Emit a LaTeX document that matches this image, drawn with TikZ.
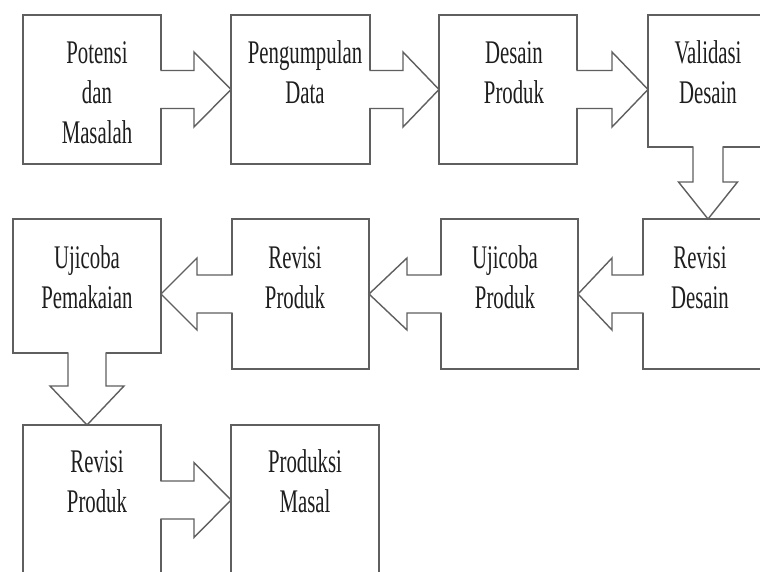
\documentclass[tikz,border=0pt]{standalone}
\usepackage{fontspec}
\setmainfont{Liberation Serif}[FakeStretch=0.63]
\usetikzlibrary{calc}

\definecolor{edgegray}{RGB}{95,95,95}
\definecolor{inkgray}{RGB}{30,30,30}

% first-line strut so every label hangs from the same top
\newcommand\fl{\rule{0pt}{30pt}}

% horizontal block arrow: #1 start on border, #2 tip, #3 signed shaft length,
% #4 shaft half width, #5 head half width
\newcommand\hblock[5]{%
  \draw[eraser] ($(#1)+(0,#4)$) -- ($(#1)+(0,-#4)$);
  \fill[white] ($(#1)+(0,#4)$) -- ($(#1)+(#3,#4)$) -- ($(#1)+(#3,#5)$) -- (#2)
    -- ($(#1)+(#3,-#5)$) -- ($(#1)+(#3,-#4)$) -- ($(#1)+(0,-#4)$) -- cycle;
  \draw[flowline] ($(#1)+(0,#4)$) -- ($(#1)+(#3,#4)$) -- ($(#1)+(#3,#5)$) -- (#2)
    -- ($(#1)+(#3,-#5)$) -- ($(#1)+(#3,-#4)$) -- ($(#1)+(0,-#4)$);
}
% vertical block arrow, same arguments with the axes swapped
\newcommand\vblock[5]{%
  \draw[eraser] ($(#1)+(#4,0)$) -- ($(#1)+(-#4,0)$);
  \fill[white] ($(#1)+(#4,0)$) -- ($(#1)+(#4,#3)$) -- ($(#1)+(#5,#3)$) -- (#2)
    -- ($(#1)+(-#5,#3)$) -- ($(#1)+(-#4,#3)$) -- ($(#1)+(-#4,0)$) -- cycle;
  \draw[flowline] ($(#1)+(#4,0)$) -- ($(#1)+(#4,#3)$) -- ($(#1)+(#5,#3)$) -- (#2)
    -- ($(#1)+(-#5,#3)$) -- ($(#1)+(-#4,#3)$) -- ($(#1)+(-#4,0)$);
}

\begin{document}
\begin{tikzpicture}[x=1pt,y=1pt,
  box/.style={draw=edgegray, line width=1.4pt, fill=white, inner sep=0pt,
    anchor=north west, outer sep=0pt},
  eraser/.style={draw=white, line width=2.4pt},
  flowline/.style={draw=edgegray, line width=1.4pt, line cap=rect, line join=miter},
  lbl/.style={font=\fontsize{33}{40}\selectfont, align=center, anchor=north,
    inner sep=0pt, text=inkgray}]

\useasboundingbox (0,0) rectangle (760,-572);
\fill[white] (0,0) rectangle (760,-572);
\clip (0,0) rectangle (760,-572);

% process boxes
\node[box, minimum width=138pt, minimum height=149pt] (b1) at (23,-15) {};
\node[box, minimum width=139pt, minimum height=149pt] (b2) at (231,-15) {};
\node[box, minimum width=138pt, minimum height=149pt] (b3) at (439,-15) {};
\node[box, minimum width=130pt, minimum height=132pt] (b4) at (648,-15) {};
\node[box, minimum width=140pt, minimum height=150pt] (b5) at (643,-219) {};
\node[box, minimum width=137pt, minimum height=150pt] (b6) at (441,-219) {};
\node[box, minimum width=137pt, minimum height=150pt] (b7) at (232,-219) {};
\node[box, minimum width=148pt, minimum height=134pt] (b8) at (13,-219) {};
\node[box, minimum width=138pt, minimum height=165pt] (b9) at (23,-425) {};
\node[box, minimum width=148pt, minimum height=165pt] (b10) at (231,-425) {};

% anchor points for arrows that leave a box off its centre line
\coordinate (s4) at ($(b4.south west)+(60,0)$);
\coordinate (s9) at ($(b9.north east)+(0,-75)$);

% block arrows between the steps
\hblock{b1.east}{b2.west}{33}{19}{37.5}
\hblock{b2.east}{b3.west}{33}{19}{37.5}
\hblock{b3.east}{b4.west |- b3.east}{35}{19}{37.5}
\vblock{s4}{b5.north -| s4}{-35}{15}{29.5}
\hblock{b5.west}{b6.east}{-31}{19}{36}
\hblock{b6.west}{b7.east}{-34}{19}{36}
\hblock{b7.west}{b8.east |- b7.west}{-35}{19}{36}
\vblock{b8.south}{b9.north -| b8.south}{-33}{19}{37}
\hblock{s9}{b10.west |- s9}{33}{19}{37.5}

% step labels
\node[lbl] (t1) at (97,-33) {\fl Potensi\\dan\\Masalah};
\node[lbl] (t2) at (305,-33) {\fl Pengumpulan\\Data};
\node[lbl] (t3) at (514,-33) {\fl Desain\\Produk};
\node[lbl] (t4) at (708,-33) {\fl Validasi\\Desain};
\node[lbl] (t5) at (700,-238) {\fl Revisi\\Desain};
\node[lbl] (t6) at (505,-238) {\fl Ujicoba\\Produk};
\node[lbl] (t7) at (295,-238) {\fl Revisi\\Produk};
\node[lbl] (t8) at (87,-238) {\fl Ujicoba\\Pemakaian};
\node[lbl] (t9) at (97,-442) {\fl Revisi\\Produk};
\node[lbl] (t10) at (305,-442) {\fl Produksi\\Masal};
\end{tikzpicture}
\end{document}
